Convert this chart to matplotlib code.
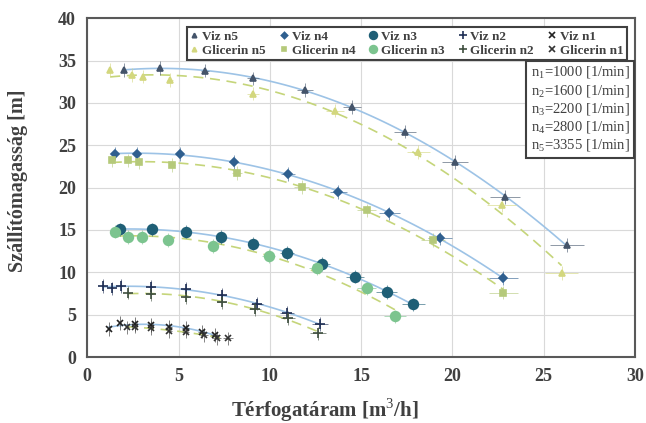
import matplotlib
matplotlib.use('Agg')
import matplotlib.pyplot as plt
import numpy as np

plt.rcParams['font.family'] = ['Liberation Serif', 'DejaVu Serif']
plt.rcParams['mathtext.fontset'] = 'custom'
plt.rcParams['mathtext.rm'] = 'Liberation Serif'

# Q [m3/h], H [m]
viz_n5_q = [2.0, 3.96, 6.46, 9.07, 11.93, 14.49, 17.4, 20.14, 22.88, 26.26]
viz_n5_h = [33.9, 34.1, 33.8, 32.9, 31.5, 29.5, 26.6, 23.0, 18.9, 13.2]
gli_n5_q = [1.26, 2.45, 3.05, 4.54, 9.07, 13.57, 18.13, 22.7, 25.98]
gli_n5_h = [33.9, 33.3, 33.1, 32.7, 31.1, 29.1, 24.2, 17.9, 9.9]

viz_n4_q = [1.53, 2.75, 5.09, 8.05, 11.02, 13.76, 16.55, 19.32, 22.79]
viz_n4_h = [24.0, 24.0, 23.95, 23.0, 21.6, 19.5, 16.95, 14.0, 9.3]
gli_n4_q = [1.35, 2.26, 2.86, 4.63, 8.19, 11.75, 15.3, 18.95, 22.79]
gli_n4_h = [23.2, 23.2, 23.0, 22.65, 21.7, 20.1, 17.3, 13.8, 7.6]

viz_n3_q = [1.77, 3.54, 5.42, 7.32, 9.1, 10.96, 12.84, 14.67, 16.4, 17.85]
viz_n3_h = [15.07, 15.07, 14.8, 14.2, 13.4, 12.3, 11.0, 9.5, 7.7, 6.2]
gli_n3_q = [1.53, 2.26, 2.99, 4.4, 6.88, 9.93, 12.57, 15.3, 16.85]
gli_n3_h = [14.8, 14.2, 14.2, 13.8, 13.1, 11.9, 10.5, 8.1, 4.8]

viz_n2_q = [0.86, 1.35, 1.84, 3.49, 5.42, 7.37, 9.29, 10.93, 12.75]
viz_n2_h = [8.4, 8.1, 8.4, 8.3, 8.0, 7.3, 6.3, 5.2, 3.9]
gli_n2_q = [2.26, 3.49, 5.42, 7.37, 9.2, 11.02, 12.66]
gli_n2_h = [7.6, 7.4, 7.1, 6.5, 5.7, 4.6, 2.8]

viz_n1_q = [1.2, 1.8, 2.6, 3.5, 4.5, 5.4, 6.3, 7.0]
viz_n1_h = [3.3, 4.0, 3.9, 3.8, 3.6, 3.4, 3.0, 2.6]
gli_n1_q = [2.2, 2.6, 3.5, 4.5, 5.4, 6.4, 7.1, 7.7]
gli_n1_h = [3.5, 3.6, 3.4, 3.1, 3.0, 2.6, 2.2, 2.2]

speed_lines = ['n$_1$=1000 [1/min]', 'n$_2$=1600 [1/min]', 'n$_3$=2200 [1/min]',
               'n$_4$=2800 [1/min]', 'n$_5$=3355 [1/min]']

q_err_rel = 0.035   # relative error of flow
h_err = 0.8         # head error [m]

series = [
    # label, q, h, marker, colour, size, is_water
    ('Viz n5', viz_n5_q, viz_n5_h, '^', '#44546a', 4, True),
    ('Glicerin n5', gli_n5_q, gli_n5_h, '^', '#d3d77e', 4, False),
    ('Viz n4', viz_n4_q, viz_n4_h, 'D', '#2f5f8f', 4, True),
    ('Glicerin n4', gli_n4_q, gli_n4_h, 's', '#b5c97a', 4, False),
    ('Viz n3', viz_n3_q, viz_n3_h, 'o', '#1f5f76', 7, True),
    ('Glicerin n3', gli_n3_q, gli_n3_h, 'o', '#7cc48f', 7, False),
    ('Viz n2', viz_n2_q, viz_n2_h, '+', '#1f2f55', 7, True),
    ('Glicerin n2', gli_n2_q, gli_n2_h, '+', '#3f4f3f', 7, False),
    ('Viz n1', viz_n1_q, viz_n1_h, 'x', '#222222', 5, True),
    ('Glicerin n1', gli_n1_q, gli_n1_h, 'x', '#333333', 5, False),
]

fig = plt.figure(figsize=(6.46, 4.23), dpi=100)
ax = fig.add_axes([0.135, 0.156, 0.848, 0.801])

for label, q, h, mk, col, ms, water in series:
    q = np.array(q)
    h = np.array(h)
    # trend line (2nd order fit like the spreadsheet trendline)
    coef = np.polyfit(q, h, 2)
    qq = np.linspace(q.min(), q.max(), 100)
    if water:
        ax.plot(qq, np.polyval(coef, qq), color='#9dc3e6', lw=1.2, zorder=1)
    else:
        ax.plot(qq, np.polyval(coef, qq), color='#c5d57a', lw=1.2, ls=(0, (6, 4)), zorder=1)
    ax.errorbar(q, h, xerr=q * q_err_rel, yerr=h_err, fmt='none', ecolor=col,
                elinewidth=0.7, capsize=0, alpha=0.6, zorder=2)
    ax.plot(q, h, ls='none', marker=mk, color=col, ms=ms, mew=1.2, label=label, zorder=3)

ax.set_xlim(0, 30)
ax.set_ylim(0, 40)
ax.set_xticks(range(0, 31, 5))
ax.set_yticks(range(0, 41, 5))
ax.grid(True, color='#d9d9d9', lw=0.8)
ax.set_axisbelow(True)
ax.tick_params(length=0, labelsize=13, pad=8)
for t in ax.get_xticklabels() + ax.get_yticklabels():
    t.set_fontweight('bold')
    t.set_color('#404040')
for s in ax.spines.values():
    s.set_color('#595959')
    s.set_linewidth(1.5)

ax.set_xlabel('Térfogatáram [m$^3$/h]', fontsize=15, fontweight='bold', color='#404040')
ax.set_ylabel('Szállítómagasság [m]', fontsize=14.5, fontweight='bold', color='#404040')
ax.xaxis.set_label_coords(0.434, -0.115)
ax.yaxis.set_label_coords(-0.108, 0.52)

leg = ax.legend(ncol=5, loc='lower left', bbox_to_anchor=(0.182, 0.876, 0.803, 0.112),
                mode='expand', borderaxespad=0, fancybox=False, framealpha=1,
                edgecolor='#404040', prop={'weight': 'bold', 'size': 9.5},
                handlelength=0.6, handletextpad=0.3, columnspacing=0.5,
                labelspacing=0.15, borderpad=0.25, markerscale=0.8)
leg.get_frame().set_linewidth(1.5)
for txt in leg.get_texts():
    txt.set_color('#404040')

ax.text(0.99, 0.862, '\n'.join(speed_lines), transform=ax.transAxes, ha='right', va='top',
        fontsize=10.5, color='#404040', linespacing=1.15,
        bbox=dict(boxstyle='square,pad=0.3', fc='white', ec='#404040', lw=1.5))

fig.savefig('out.png', dpi=100)
